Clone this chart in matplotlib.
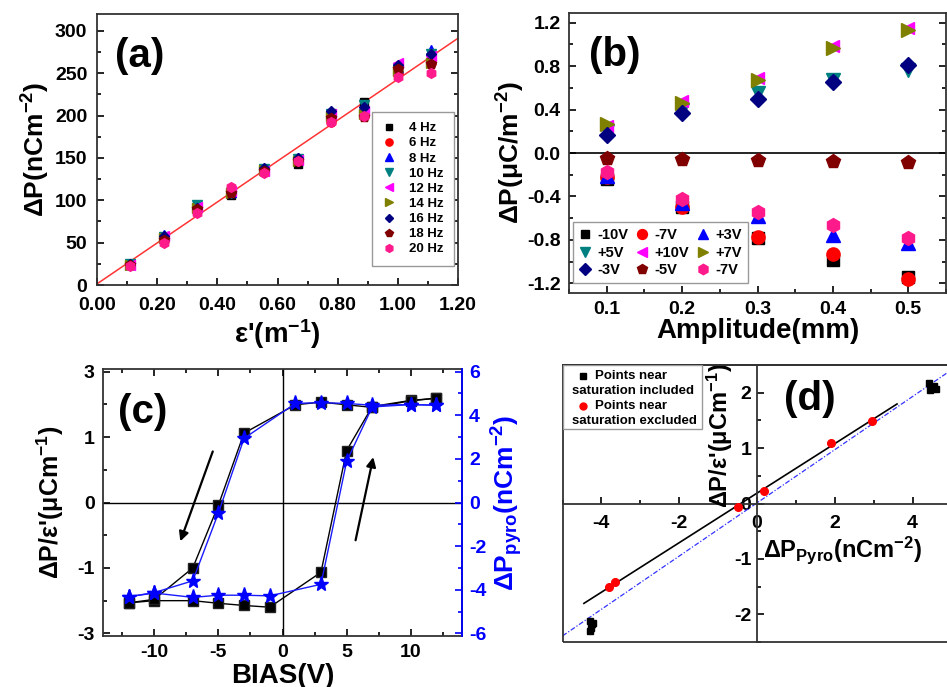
import numpy as np
import matplotlib
matplotlib.use('Agg')
import matplotlib.pyplot as plt
from matplotlib.ticker import MultipleLocator, FixedLocator, FixedFormatter, FormatStrFormatter
from matplotlib.patches import Rectangle
from matplotlib.lines import Line2D

plt.rcParams['font.family'] = ['Liberation Sans', 'DejaVu Sans']
plt.rcParams['font.weight'] = 'bold'
plt.rcParams['axes.labelweight'] = 'bold'
plt.rcParams['mathtext.fontset'] = 'custom'
plt.rcParams['mathtext.rm'] = 'Liberation Sans:bold'
plt.rcParams['mathtext.it'] = 'Liberation Sans:bold'
plt.rcParams['mathtext.bf'] = 'Liberation Sans:bold'
plt.rcParams['mathtext.default'] = 'bf'
plt.rcParams['axes.unicode_minus'] = False

# ---------------- data: panel (a) ----------------
strain = [0.111, 0.222, 0.333, 0.444, 0.556, 0.667, 0.778, 0.889, 1.0, 1.111]
freq_labels = ['4 Hz', '6 Hz', '8 Hz', '10 Hz', '12 Hz', '14 Hz', '16 Hz', '18 Hz', '20 Hz']
p_4hz = [24, 55, 93, 106, 136, 143, 198, 216, 254, 269]
p_6hz = [24, 52, 87, 113, 134, 146, 193, 200, 250, 262]
p_8hz = [25, 59, 93, 110, 137, 150, 204, 212, 258, 278]
p_10hz = [25, 57, 95, 109, 137, 149, 202, 213, 256, 273]
p_12hz = [24, 58, 92, 111, 135, 148, 202, 205, 262, 270]
p_14hz = [24, 55, 91, 109, 136, 147, 199, 202, 253, 262]
p_16hz = [25, 58, 91, 110, 138, 150, 206, 210, 260, 273]
p_18hz = [24, 53, 90, 109, 135, 147, 197, 198, 255, 261]
p_20hz = [23, 50, 85, 116, 132, 147, 192, 199, 246, 250]

# ---------------- data: panel (b) ----------------
amplitude = [0.1, 0.2, 0.3, 0.4, 0.5]
bias_labels = ['-10V', '-7V', '+3V', '+5V', '+10V', '+7V', '-3V', '-5V', '-7V']
b_m10 = [-0.237, -0.50, -0.78, -0.99, -1.14]
b_m7a = [-0.22, -0.50, -0.775, -0.93, -1.16]
b_p3 = [-0.215, -0.46, -0.585, -0.76, -0.83]
b_p5 = [0.20, 0.40, 0.554, 0.67, 0.763]
b_p10 = [0.246, 0.48, 0.695, 0.99, 1.15]
b_p7 = [0.265, 0.46, 0.677, 0.97, 1.13]
b_m3 = [0.17, 0.37, 0.495, 0.65, 0.815]
b_m5 = [-0.043, -0.058, -0.06, -0.074, -0.083]
b_m7b = [-0.175, -0.42, -0.545, -0.66, -0.78]

# ---------------- data: panel (c) ----------------
bias_up = [-12, -10, -7, -5, -3, -1, 3, 5, 7, 10, 12]
bias_down = [12, 10, 7, 5, 3, 1, -3, -5, -7, -10, -12]
ratio_up = [-2.30, -2.25, -2.25, -2.31, -2.36, -2.40, -1.60, 1.19, 2.20, 2.34, 2.39]
ratio_down = [2.39, 2.33, 2.18, 2.24, 2.30, 2.24, 1.59, -0.06, -1.50, -2.22, -2.30]
pyro_up = [-4.32, -4.15, -4.35, -4.25, -4.25, -4.28, -3.75, 1.88, 4.38, 4.49, 4.46]
pyro_down = [4.46, 4.49, 4.46, 4.54, 4.58, 4.54, 2.94, -0.48, -3.59, -4.13, -4.32]
left_ticks = [-3, -1.5, 0, 1.5, 3]
left_tick_labels = ['-3', '-1', '0', '1', '3']
arrow_down = [(-5.44, 1.17), (-7.97, -0.89)]   # tail, head
arrow_up = [(5.70, -0.865), (7.08, 1.04)]

# ---------------- data: panel (d) ----------------
pyro_sat = [-4.30, -4.25, -4.28, -4.30, -4.22, 4.42, 4.50, 4.55, 4.45, 4.60]
ratio_sat = [-2.12, -2.18, -2.25, -2.30, -2.15, 2.18, 2.10, 2.12, 2.05, 2.07]
pyro_mid = [-3.80, -3.64, -0.50, 0.18, 1.90, 2.95]
ratio_mid = [-1.51, -1.42, -0.07, 0.23, 1.10, 1.49]
fit_excl_span = [-4.45, 3.6]

W, H = 947, 687
fig = plt.figure(figsize=(W / 100, H / 100), dpi=100)


def box(l, t, r, b):
    return [l / W, 1 - b / H, (r - l) / W, (b - t) / H]


def style(ax, top=False, right=True, pad=6):
    ax.tick_params(which='both', direction='in', top=top, right=right,
                   labelsize=14, width=1.2, pad=pad)
    ax.tick_params(which='major', length=5)
    ax.tick_params(which='minor', length=3)
    for s in ax.spines.values():
        s.set_linewidth(1.3)
        s.set_color('#333333')


# ================= panel (a) =================
axa = fig.add_axes(box(97, 14, 458, 285))
series_a = [p_4hz, p_6hz, p_8hz, p_10hz, p_12hz, p_14hz, p_16hz, p_18hz, p_20hz]
markers_a = ['s', 'o', '^', 'v', '<', '>', 'D', 'p', 'h']
colors_a = ['black', '#FF0000', '#0000FF', '#008080', '#FF00FF', '#808000',
            '#000080', '#800000', '#FF1A8C']
sizes_a = [5.5, 6.5, 6.5, 6.5, 6.5, 6.5, 5.5, 7, 7]
for ys, m, c, s, lab in zip(series_a, markers_a, colors_a, sizes_a, freq_labels):
    axa.plot(strain, ys, linestyle='none', marker=m, color=c, ms=s, label=lab)
all_x = np.tile(strain, len(series_a))
all_y = np.concatenate(series_a)
ka, ba = np.polyfit(all_x, all_y, 1)
xx = np.linspace(0, 1.2, 2)
axa.plot(xx, ka * xx + ba, color='#FF3333', lw=1.1, zorder=1)
axa.set_xlim(0, 1.2)
axa.set_ylim(0, 320)
axa.xaxis.set_major_locator(MultipleLocator(0.2))
axa.xaxis.set_minor_locator(MultipleLocator(0.1))
axa.xaxis.set_major_formatter(FormatStrFormatter('%.2f'))
axa.yaxis.set_major_locator(MultipleLocator(50))
axa.yaxis.set_minor_locator(MultipleLocator(25))
style(axa)
axa.tick_params(axis='x', pad=9)
axa.tick_params(axis='y', pad=7)
axa.set_ylabel('ΔP(nCm$^{-2}$)', fontsize=19, labelpad=2)
axa.set_xlabel("ε'(m$^{-1}$)", fontsize=20, labelpad=2)
leg = axa.legend(loc='upper left', bbox_to_anchor=(0.761, 0.64), fontsize=9.5,
                 frameon=True, fancybox=False, edgecolor='#999999', framealpha=1,
                 handlelength=1.0, handletextpad=1.0, labelspacing=0.22,
                 borderpad=0.8, markerscale=0.8, borderaxespad=0)
leg.get_frame().set_linewidth(1.0)

# ================= panel (b) =================
axb = fig.add_axes(box(569, 13, 946, 293))
series_b = [b_m10, b_m7a, b_p3, b_p5, b_p10, b_p7, b_m3, b_m5, b_m7b]
markers_b = ['s', 'o', '^', 'v', '<', '>', 'D', 'p', 'h']
colors_b = ['black', '#FF0000', '#0000FF', '#008080', '#FF00FF', '#808000',
            '#000080', '#800000', '#FF1A8C']
sizes_b = [8, 9.5, 9.5, 9.5, 9, 9.5, 8.5, 10, 10]
handles_b = []
for ys, m, c, s, lab in zip(series_b, markers_b, colors_b, sizes_b, bias_labels):
    h, = axb.plot(amplitude, ys, linestyle='none', marker=m, color=c, ms=s, label=lab)
    handles_b.append(h)
axb.axhline(0, color='black', lw=1.2, zorder=0)
axb.set_xlim(0.05, 0.55)
axb.set_ylim(-1.29, 1.29)
axb.xaxis.set_major_locator(MultipleLocator(0.1))
axb.xaxis.set_minor_locator(MultipleLocator(0.05))
axb.xaxis.set_major_formatter(FormatStrFormatter('%.1f'))
axb.yaxis.set_major_locator(MultipleLocator(0.4))
axb.yaxis.set_minor_locator(MultipleLocator(0.2))
axb.yaxis.set_major_formatter(FormatStrFormatter('%.1f'))
style(axb)
axb.set_ylabel('ΔP(μC/m$^{-2}$)', fontsize=19, labelpad=0)
axb.set_xlabel('Amplitude(mm)', fontsize=20, labelpad=0)
order = [0, 3, 6, 1, 4, 7, 2, 5, 8]
legb = axb.legend([handles_b[i] for i in order], [bias_labels[i] for i in order],
                  ncol=3, loc='lower left', bbox_to_anchor=(0.01, 0.035),
                  fontsize=10.5, frameon=True, fancybox=False, edgecolor='#999999',
                  framealpha=1, handlelength=0.9, handletextpad=0.4,
                  columnspacing=0.5, labelspacing=0.25, borderpad=0.4,
                  markerscale=0.75, borderaxespad=0)
legb.get_frame().set_linewidth(1.0)

# ================= panel (c) =================
axc = fig.add_axes(box(103, 369, 462, 636))
axc.plot(bias_up, ratio_up, color='black', lw=1, marker='s', ms=7.5,
         mfc='black', mec='#222222', zorder=3)
axc.plot(bias_down, ratio_down, color='black', lw=1, marker='s', ms=7.5,
         mfc='black', mec='#222222', zorder=3)
axc.axhline(0, color='black', lw=1, zorder=1)
axc.axvline(0, color='black', lw=1, zorder=1)
axc.set_xlim(-14, 14)
axc.set_ylim(-3.06, 3.06)
axc.yaxis.set_major_locator(FixedLocator(left_ticks))
axc.yaxis.set_major_formatter(FixedFormatter(left_tick_labels))
axc.yaxis.set_minor_locator(MultipleLocator(0.75))
axc.xaxis.set_major_locator(MultipleLocator(5))
axc.xaxis.set_minor_locator(MultipleLocator(2.5))
style(axc, top=True, right=False)
axc.set_ylabel("ΔP/ε'(μCm$^{-1}$)", fontsize=18, labelpad=8)
axc.set_xlabel('BIAS(V)', fontsize=20, labelpad=1)
for tail, head in (arrow_down, arrow_up):
    axc.annotate('', xy=head, xytext=tail,
                 arrowprops=dict(arrowstyle='-|>', color='black', lw=1.6,
                                 mutation_scale=14, shrinkA=0, shrinkB=0))

axc2 = axc.twinx()
axc2.plot(bias_up, pyro_up, color='#1a1aff', lw=1, marker='*', ms=11,
          mfc='#0000FF', mec='#0000FF', zorder=4)
axc2.plot(bias_down, pyro_down, color='#1a1aff', lw=1, marker='*', ms=11,
          mfc='#0000FF', mec='#0000FF', zorder=4)
axc2.set_ylim(-6.12, 6.12)
axc2.yaxis.set_major_locator(MultipleLocator(2))
axc2.yaxis.set_minor_locator(MultipleLocator(1))
axc2.tick_params(which='both', direction='in', colors='#0000FF', labelsize=14,
                 width=1.2, pad=5)
axc2.tick_params(which='major', length=5)
axc2.tick_params(which='minor', length=3)
for k in ('left', 'top', 'bottom'):
    axc2.spines[k].set_visible(False)
axc2.spines['right'].set_color('#0000FF')
axc2.spines['right'].set_linewidth(1.3)
axc2.set_ylabel('ΔP$_{pyro}$(nCm$^{-2}$)', fontsize=19, color='#0000FF', labelpad=2)

# ================= panel (d) =================
axd = fig.add_axes(box(562.5, 365, 951.5, 642))
axd.plot(pyro_sat, ratio_sat, linestyle='none', marker='s', ms=5, color='black', zorder=3)
axd.plot(pyro_mid, ratio_mid, linestyle='none', marker='o', ms=5.5, color='#FF0000', zorder=3)
k1, b1 = np.polyfit(pyro_mid, ratio_mid, 1)
x1 = np.linspace(fit_excl_span[0], fit_excl_span[1], 2)
axd.plot(x1, k1 * x1 + b1, color='black', lw=1.2, zorder=2)
all_px = np.concatenate([pyro_sat, pyro_mid])
all_ry = np.concatenate([ratio_sat, ratio_mid])
k2, b2 = np.polyfit(all_px, all_ry, 1)
x2 = np.linspace(-5, 5, 2)
axd.plot(x2, k2 * x2 + b2, color='#3333FF', lw=0.9,
         linestyle=(0, (4, 1.5, 1, 1.5)), zorder=2)
axd.set_xlim(-5, 5)
axd.set_ylim(-2.5, 2.5)
axd.spines['left'].set_position(('data', 0))
axd.spines['bottom'].set_position(('data', 0))
axd.xaxis.set_major_locator(MultipleLocator(2))
axd.xaxis.set_minor_locator(MultipleLocator(1))
axd.yaxis.set_major_locator(MultipleLocator(1))
axd.yaxis.set_minor_locator(MultipleLocator(0.5))
style(axd, top=False, right=False)
axd.tick_params(axis='x', pad=8)
axd.tick_params(axis='y', pad=4)
axd.add_patch(Rectangle((0, 0), 1, 1, transform=axd.transAxes, fill=False,
                        lw=1.3, edgecolor='#333333', clip_on=False, zorder=5))
axd.text(0.405, 0.745, "ΔP/ε'(μCm$^{-1}$)", transform=axd.transAxes, rotation=90,
         ha='center', va='center', fontsize=17)
axd.text(0.515, 0.33, 'ΔP$_{Pyro}$(nCm$^{-2}$)', transform=axd.transAxes,
         ha='left', va='center', fontsize=17)
# legend box (d)
axd.add_patch(Rectangle((0.0, 0.769), 0.359, 0.231, transform=axd.transAxes,
                        facecolor='white', edgecolor='#999999', lw=1.0, zorder=6))
axd.add_line(Line2D([0.052], [0.960], transform=axd.transAxes, marker='s', ms=4.5,
                    color='black', linestyle='none', zorder=7))
axd.add_line(Line2D([0.052], [0.852], transform=axd.transAxes, marker='o', ms=5,
                    color='#FF0000', linestyle='none', zorder=7))
for (tx, ty, s) in [(0.0835, 0.960, 'Points near'), (0.0236, 0.906, 'saturation included'),
                    (0.0835, 0.852, 'Points near'), (0.0236, 0.797, 'saturation excluded')]:
    axd.text(tx, ty, s, transform=axd.transAxes, ha='left', va='center',
             fontsize=9.5, zorder=7)

# panel letters
for (px, py, s) in [(140, 56, '(a)'), (615, 55, '(b)'), (143, 412, '(c)'), (810, 399, '(d)')]:
    fig.text(px / W, 1 - py / H, s, fontsize=29, fontweight='bold', ha='center', va='center')

fig.savefig('out.png', dpi=100)
